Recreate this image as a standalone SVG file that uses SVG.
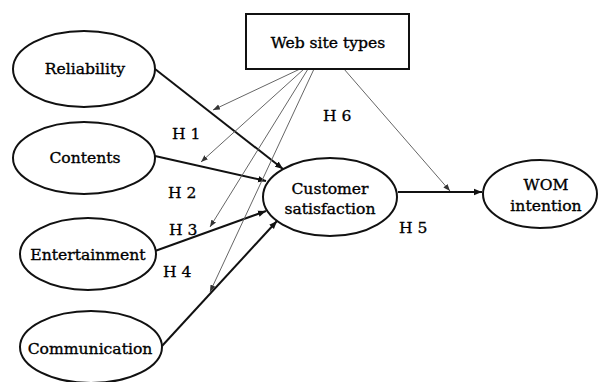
<svg xmlns="http://www.w3.org/2000/svg" width="598" height="382" viewBox="0 0 598 382">
  <style>
    .node { fill: #fff; stroke: #111; stroke-width: 2; }
    .label { font-family: "DejaVu Serif", "Liberation Serif", serif; font-size: 15.6px; fill: #000; stroke: #000; stroke-width: 0.35; text-anchor: middle; }
    .hyp { font-family: "DejaVu Serif", "Liberation Serif", serif; font-size: 15.6px; fill: #000; stroke: #000; stroke-width: 0.3; }
    .path { fill: none; stroke: #111; stroke-width: 2; }
    .mod { fill: none; stroke: #666; stroke-width: 1; }
  </style>
  <defs>
    <marker id="arrow" markerUnits="userSpaceOnUse" markerWidth="9" markerHeight="8" refX="8" refY="4" orient="auto">
      <path d="M0,0.8 L8,4 L0,7.2 Z" fill="#111"/>
    </marker>
    <marker id="arrowThin" markerUnits="userSpaceOnUse" markerWidth="8" markerHeight="7" refX="7" refY="3.5" orient="auto">
      <path d="M0,0.8 L7,3.5 L0,6.2 Z" fill="#333"/>
    </marker>
  </defs>

  <rect width="598" height="382" fill="#fff"/>

  <!-- connectors -->
  <g id="connectors">
    <line class="path" x1="155" y1="69" x2="283" y2="169" marker-end="url(#arrow)"/>
    <line class="path" x1="155" y1="156" x2="266" y2="181" marker-end="url(#arrow)"/>
    <line class="path" x1="155" y1="251" x2="266" y2="211" marker-end="url(#arrow)"/>
    <line class="path" x1="162" y1="346" x2="277" y2="221" marker-end="url(#arrow)"/>
    <line class="path" x1="398" y1="192" x2="482" y2="192" marker-end="url(#arrow)"/>

    <line class="mod" x1="300" y1="69" x2="213" y2="110" marker-end="url(#arrowThin)"/>
    <line class="mod" x1="304" y1="69" x2="201" y2="162" marker-end="url(#arrowThin)"/>
    <line class="mod" x1="308" y1="69" x2="210" y2="227" marker-end="url(#arrowThin)"/>
    <line class="mod" x1="314" y1="69" x2="210" y2="292" marker-end="url(#arrowThin)"/>
    <line class="mod" x1="344" y1="69" x2="450" y2="191" marker-end="url(#arrowThin)"/>
  </g>

  <g id="web-site-types">
    <rect class="node" x="246" y="14" width="163" height="55"/>
    <text class="label" x="328" y="48">Web site types</text>
  </g>

  <g id="reliability">
    <ellipse class="node" cx="84" cy="69" rx="71" ry="38"/>
    <text class="label" x="85" y="74">Reliability</text>
  </g>

  <g id="contents">
    <ellipse class="node" cx="84" cy="158" rx="71" ry="36"/>
    <text class="label" x="85" y="163">Contents</text>
  </g>

  <g id="entertainment">
    <ellipse class="node" cx="88" cy="254" rx="68" ry="36"/>
    <text class="label" x="88" y="260">Entertainment</text>
  </g>

  <g id="communication">
    <ellipse class="node" cx="91" cy="347" rx="71" ry="36"/>
    <text class="label" x="90" y="354">Communication</text>
  </g>

  <g id="customer-satisfaction">
    <ellipse class="node" cx="330" cy="197" rx="67" ry="39"/>
    <text class="label" x="330" y="194">Customer</text>
    <text class="label" x="330" y="214">satisfaction</text>
  </g>

  <g id="wom-intention">
    <ellipse class="node" cx="540" cy="194" rx="57" ry="34"/>
    <text class="label" x="546" y="190">WOM</text>
    <text class="label" x="546" y="211">intention</text>
  </g>

  <g id="hypotheses">
    <text class="hyp" x="172" y="139">H 1</text>
    <text class="hyp" x="168" y="198">H 2</text>
    <text class="hyp" x="169" y="235">H 3</text>
    <text class="hyp" x="163" y="277">H 4</text>
    <text class="hyp" x="399" y="233">H 5</text>
    <text class="hyp" x="323" y="121">H 6</text>
  </g>
</svg>
